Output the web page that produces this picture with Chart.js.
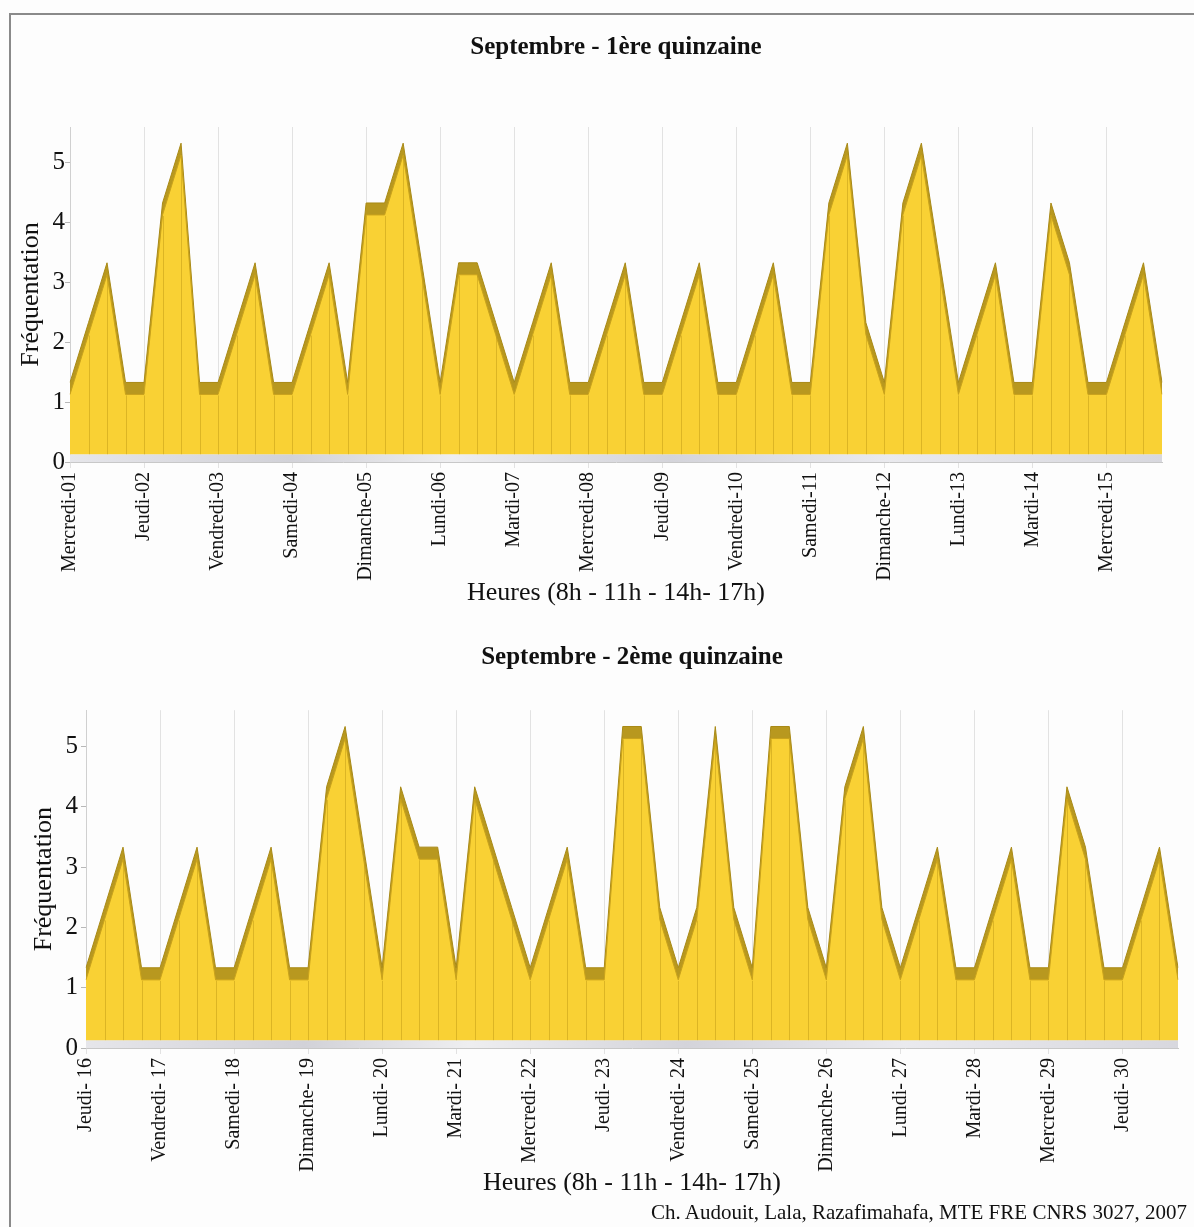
<!DOCTYPE html>
<html>
<head>
<meta charset="utf-8">
<script src="https://cdn.jsdelivr.net/npm/chart.js@4"></script>
<style>
  body { margin: 0; background: #fff; }
  #page { position: relative; width: 1194px; height: 1227px; overflow: hidden; background: #fdfdfd; }
  #frame { position: absolute; left: 9px; top: 13px; width: 1200px; height: 1230px;
           border-left: 2px solid #8a8a8a; border-top: 2px solid #8a8a8a; }
  canvas { position: absolute; left: 0; }
  #c1 { top: 0; }
  #c2 { top: 615px; }
  #credit { position: absolute; right: 7px; top: 1200px; font: 21px 'Liberation Serif', serif; color: #111; }
</style>
</head>
<body>
<div id="page">
  <div id="frame"></div>
  <canvas id="c1" width="1194" height="615"></canvas>
  <canvas id="c2" width="1194" height="612"></canvas>
  <div id="credit">Ch. Audouit, Lala, Razafimahafa, MTE FRE CNRS 3027, 2007</div>
</div>
<script>
// hours of counting, each day
var hours = ['8h', '11h', '14h', '17h'];

var days1 = ['Mercredi-01', 'Jeudi-02', 'Vendredi-03', 'Samedi-04', 'Dimanche-05', 'Lundi-06', 'Mardi-07',
  'Mercredi-08', 'Jeudi-09', 'Vendredi-10', 'Samedi-11', 'Dimanche-12', 'Lundi-13', 'Mardi-14', 'Mercredi-15'];
var days2 = ['Jeudi- 16', 'Vendredi- 17', 'Samedi- 18', 'Dimanche- 19', 'Lundi- 20', 'Mardi- 21', 'Mercredi- 22',
  'Jeudi- 23', 'Vendredi- 24', 'Samedi- 25', 'Dimanche- 26', 'Lundi- 27', 'Mardi- 28', 'Mercredi- 29', 'Jeudi- 30'];

// frequentation, 4 values per day
var visits1 = [
  1, 2, 3, 1,   1, 4, 5, 1,   1, 2, 3, 1,   1, 2, 3, 1,   4, 4, 5, 3,
  1, 3, 3, 2,   1, 2, 3, 1,   1, 2, 3, 1,   1, 2, 3, 1,   1, 2, 3, 1,
  1, 4, 5, 2,   1, 4, 5, 3,   1, 2, 3, 1,   1, 4, 3, 1,   1, 2, 3, 1
];
var visits2 = [
  1, 2, 3, 1,   1, 2, 3, 1,   1, 2, 3, 1,   1, 4, 5, 3,   1, 4, 3, 3,
  1, 4, 3, 2,   1, 2, 3, 1,   1, 5, 5, 2,   1, 2, 5, 2,   1, 5, 5, 2,
  1, 4, 5, 2,   1, 2, 3, 1,   1, 2, 3, 1,   1, 4, 3, 1,   1, 2, 3, 1
];

var yTicks = [0, 1, 2, 3, 4, 5];

var SERIF = "'Liberation Serif', 'Times New Roman', serif";
var Y_MAX = 5.6;
var DEPTH_FRONT = 0.13;   // front face sits on the floor
var DEPTH_BACK = 0.33;    // back face (3D top)

// floor + vertical segment lines of the 3D area
var depthPlugin = {
  id: 'depth',
  beforeDatasetsDraw: function(chart) {
    var ctx = chart.ctx, a = chart.chartArea;
    var y0 = chart.scales.y.getPixelForValue(0);
    var y1 = chart.scales.yFront.getPixelForValue(0);
    var g = ctx.createLinearGradient(a.left, 0, a.right, 0);
    g.addColorStop(0, '#e6e6ea');
    g.addColorStop(0.2, '#d2d2d8');
    g.addColorStop(0.35, '#eeeef0');
    g.addColorStop(0.55, '#d4d4da');
    g.addColorStop(0.75, '#eaeaee');
    g.addColorStop(1, '#d8d8de');
    ctx.save();
    ctx.fillStyle = g;
    ctx.fillRect(a.left, y1, a.right - a.left, y0 - y1);
    ctx.restore();
  },
  afterDatasetsDraw: function(chart) {
    var ctx = chart.ctx;
    var meta = chart.getDatasetMeta(0);
    var base = chart.scales.yFront.getPixelForValue(0);
    ctx.save();
    ctx.strokeStyle = 'rgba(196,158,24,0.55)';
    ctx.lineWidth = 1;
    meta.data.forEach(function(p, i) {
      if (i === 0 || i === meta.data.length - 1) return;
      var x = Math.round(p.x) + 0.5;
      ctx.beginPath();
      ctx.moveTo(x, p.y + 1);
      ctx.lineTo(x, base);
      ctx.stroke();
    });
    ctx.restore();
  }
};

function makeChart(id, title, days, values, box) {
  var labels = [];
  days.forEach(function(d) {
    hours.forEach(function(h) { labels.push(d + ' ' + h); });
  });

  var ctx = document.getElementById(id).getContext('2d');
  return new Chart(ctx, {
    type: 'line',
    data: {
      labels: labels,
      datasets: [{
        label: 'Fréquentation',
        data: values,
        yAxisID: 'yFront',
        fill: 'origin',
        backgroundColor: '#f9d134',
        borderColor: '#c9a21c',
        borderWidth: 1,
        pointRadius: 0,
        tension: 0
      }, {
        label: 'Fréquentation (fond)',
        data: values,
        yAxisID: 'yBack',
        fill: 'origin',
        backgroundColor: '#b8981f',
        borderColor: '#a98a17',
        borderWidth: 1,
        pointRadius: 0,
        tension: 0
      }]
    },
    options: {
      responsive: false,
      animation: false,
      layout: { padding: { left: box.left, right: box.right, top: 0, bottom: 0 } },
      plugins: {
        legend: { display: false },
        tooltip: { enabled: false },
        title: {
          display: true,
          fullSize: false,
          text: title,
          color: '#111',
          font: { family: SERIF, size: 25, weight: 'bold' },
          padding: { top: box.titleTop, bottom: box.titleBottom }
        }
      },
      scales: {
        x: {
          grid: {
            color: function(c) { return c.index % 4 === 0 ? '#e2e2e2' : 'rgba(0,0,0,0)'; },
            tickLength: 6
          },
          border: { display: true, color: '#c8c8c8' },
          ticks: {
            autoSkip: false,
            minRotation: 90,
            maxRotation: 90,
            padding: 4,
            color: '#111',
            font: { family: SERIF, size: 20 },
            callback: function(v, i) { return i % 4 === 0 ? days[i / 4] : ''; }
          },
          title: {
            display: true,
            text: 'Heures (8h - 11h - 14h- 17h)',
            color: '#111',
            font: { family: SERIF, size: 26 },
            padding: { top: 0, bottom: box.xTitleBottom }
          },
          afterFit: function(s) {
            s.height = box.xHeight;
            s.paddingRight = 0;
          }
        },
        y: {
          min: 0,
          max: Y_MAX,
          grid: { drawOnChartArea: false, color: '#b8b8b8', tickLength: 5 },
          border: { display: true, color: '#d0d0d0' },
          ticks: {
            stepSize: 1,
            includeBounds: false,
            padding: box.yTickPad,
            color: '#111',
            font: { family: SERIF, size: 25 },
            callback: function(v) { return yTicks.indexOf(v) >= 0 ? String(v) : ''; }
          },
          title: {
            display: true,
            text: 'Fréquentation',
            color: '#111',
            font: { family: SERIF, size: 26 },
            padding: { top: box.yTitleTop, bottom: 0 }
          },
          afterFit: function(s) { s.width = 70; }
        },
        yFront: { display: false, min: -DEPTH_FRONT, max: Y_MAX - DEPTH_FRONT },
        yBack: { display: false, min: -DEPTH_BACK, max: Y_MAX - DEPTH_BACK }
      }
    },
    plugins: [depthPlugin]
  });
}

makeChart('c1', 'Septembre - 1ère quinzaine', days1, visits1, {
  left: 0, right: 32, titleTop: 33, titleBottom: 64,
  xHeight: 153, xTitleBottom: 6.4, yTitleTop: 15.4, yTickPad: 0
});

makeChart('c2', 'Septembre - 2ème quinzaine', days2, visits2, {
  left: 16, right: 16, titleTop: 27.6, titleBottom: 37.6,
  xHeight: 179, xTitleBottom: 28.4, yTitleTop: 12.4, yTickPad: 3
});
</script>
</body>
</html>
